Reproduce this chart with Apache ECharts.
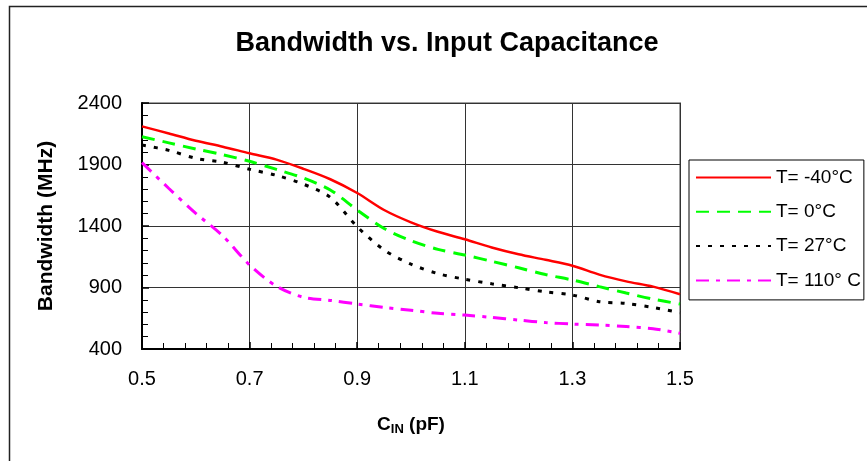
<!DOCTYPE html>
<html>
<head>
<meta charset="utf-8">
<script src="https://cdn.jsdelivr.net/npm/echarts@6/dist/echarts.min.js"></script>
<style>
  html, body { margin: 0; padding: 0; background: #fff; }
  #chart { width: 867px; height: 461px; }
</style>
</head>
<body>
<div id="chart"></div>
<script>
// input capacitance (pF), sampled every 0.05
const cin = [0.5, 0.55, 0.6, 0.65, 0.7, 0.75, 0.8, 0.85, 0.9, 0.95, 1.0,
  1.05, 1.1, 1.15, 1.2, 1.25, 1.3, 1.35, 1.4, 1.45, 1.5]

// bandwidth in MHz for each temperature
const bwMinus40 = [2210, 2152, 2093, 2045, 1991, 1940, 1865, 1780, 1668, 1530, 1430,
  1353, 1292, 1225, 1170, 1125, 1077, 1005, 950, 907, 845]
const bw0 = [2126, 2076, 2026, 1980, 1926, 1860, 1790, 1693, 1530, 1380, 1280,
  1210, 1164, 1113, 1060, 1005, 961, 907, 855, 805, 766]
const bw27 = [2058, 2015, 1950, 1918, 1861, 1812, 1740, 1633, 1394, 1205, 1090,
  1013, 967, 930, 898, 865, 839, 785, 770, 738, 695]
const bw110 = [1915, 1705, 1503, 1320, 1083, 910, 820, 795, 766, 738, 715,
  690, 676, 657, 635, 615, 603, 595, 583, 565, 528]

const seriesNames = ['T= -40°C', 'T= 0°C', 'T= 27°C', 'T= 110° C']
const xTicks = [0.5, 0.7, 0.9, 1.1, 1.3, 1.5]
const yTicks = [400, 900, 1400, 1900, 2400]

const font = 'Liberation Sans, Arial, sans-serif'

function pairs(ys) {
  return cin.map((x, i) => [x, ys[i]])
}

function makeLine(name, ys, color, width, dash) {
  return {
    name,
    type: 'line',
    data: pairs(ys),
    smooth: 0.3,
    symbol: 'none',
    lineStyle: { color, width, type: dash },
    itemStyle: { color }
  }
}

const chart = echarts.init(document.getElementById('chart'))

chart.setOption({
  animation: false,
  backgroundColor: '#fff',
  title: {
    text: 'Bandwidth vs. Input Capacitance',
    left: 442,
    top: 25,
    textAlign: 'center',
    textStyle: { fontFamily: font, fontSize: 27, fontWeight: 'bold', color: '#000' }
  },
  graphic: [
    {
      type: 'rect',
      shape: { x: 9.5, y: 6.5, width: 900, height: 500 },
      style: { fill: 'none', stroke: '#222', lineWidth: 1.5 },
      silent: true
    }
  ],
  legend: {
    orient: 'vertical',
    left: 689,
    top: 160,
    padding: [8, 3, 10, 6],
    itemWidth: 75,
    itemHeight: 20,
    itemGap: 15.3,
    borderColor: '#000',
    borderWidth: 1,
    itemStyle: { opacity: 0 },
    data: seriesNames,
    textStyle: { fontFamily: font, fontSize: 19, color: '#000' }
  },
  grid: {
    left: 142,
    top: 103,
    width: 538,
    height: 246,
    show: true,
    borderColor: '#a0a0a0',
    borderWidth: 2,
    containLabel: false
  },
  xAxis: {
    type: 'value',
    min: xTicks[0],
    max: xTicks[xTicks.length - 1],
    interval: 0.2,
    name: '{c|C}{s|IN}{c| (pF)}',
    nameLocation: 'middle',
    nameGap: 64,
    nameTextStyle: {
      rich: {
        c: { fontFamily: font, fontSize: 19, fontWeight: 'bold', color: '#000' },
        s: { fontFamily: font, fontSize: 13, fontWeight: 'bold', color: '#000', padding: [10, 0, 0, 0] }
      }
    },
    axisLine: { lineStyle: { color: '#000', width: 2 } },
    axisTick: { inside: true, length: 7, lineStyle: { color: '#000', width: 1.5 } },
    minorTick: { show: true, splitNumber: 5, length: 6, lineStyle: { color: '#000', width: 1 } },
    axisLabel: {
      margin: 20,
      fontFamily: font,
      fontSize: 20,
      color: '#000',
      formatter: (v) => v.toFixed(1)
    },
    splitLine: { show: true, lineStyle: { color: '#333', width: 1 } }
  },
  yAxis: {
    type: 'value',
    min: yTicks[0],
    max: yTicks[yTicks.length - 1],
    interval: 500,
    name: 'Bandwidth (MHz)',
    nameLocation: 'middle',
    nameRotate: 90,
    nameGap: 85,
    nameTextStyle: { fontFamily: font, fontSize: 21, fontWeight: 'bold', color: '#000' },
    axisLine: { show: true, lineStyle: { color: '#000', width: 2 } },
    axisTick: { show: true, inside: true, length: 7, lineStyle: { color: '#000', width: 1.5 } },
    minorTick: { show: true, splitNumber: 5, length: 6, lineStyle: { color: '#000', width: 1 } },
    axisLabel: {
      margin: 20,
      fontFamily: font,
      fontSize: 20,
      color: '#000',
      formatter: (v) => String(v)
    },
    splitLine: { show: true, lineStyle: { color: '#333', width: 1 } }
  },
  series: [
    makeLine(seriesNames[0], bwMinus40, '#ff0000', 2.5, 'solid'),
    makeLine(seriesNames[1], bw0, '#00ff00', 3, [13, 8]),
    makeLine(seriesNames[2], bw27, '#000000', 3, [4, 8]),
    makeLine(seriesNames[3], bw110, '#ff00ff', 3, [13, 7, 4, 7])
  ]
})
</script>
</body>
</html>
